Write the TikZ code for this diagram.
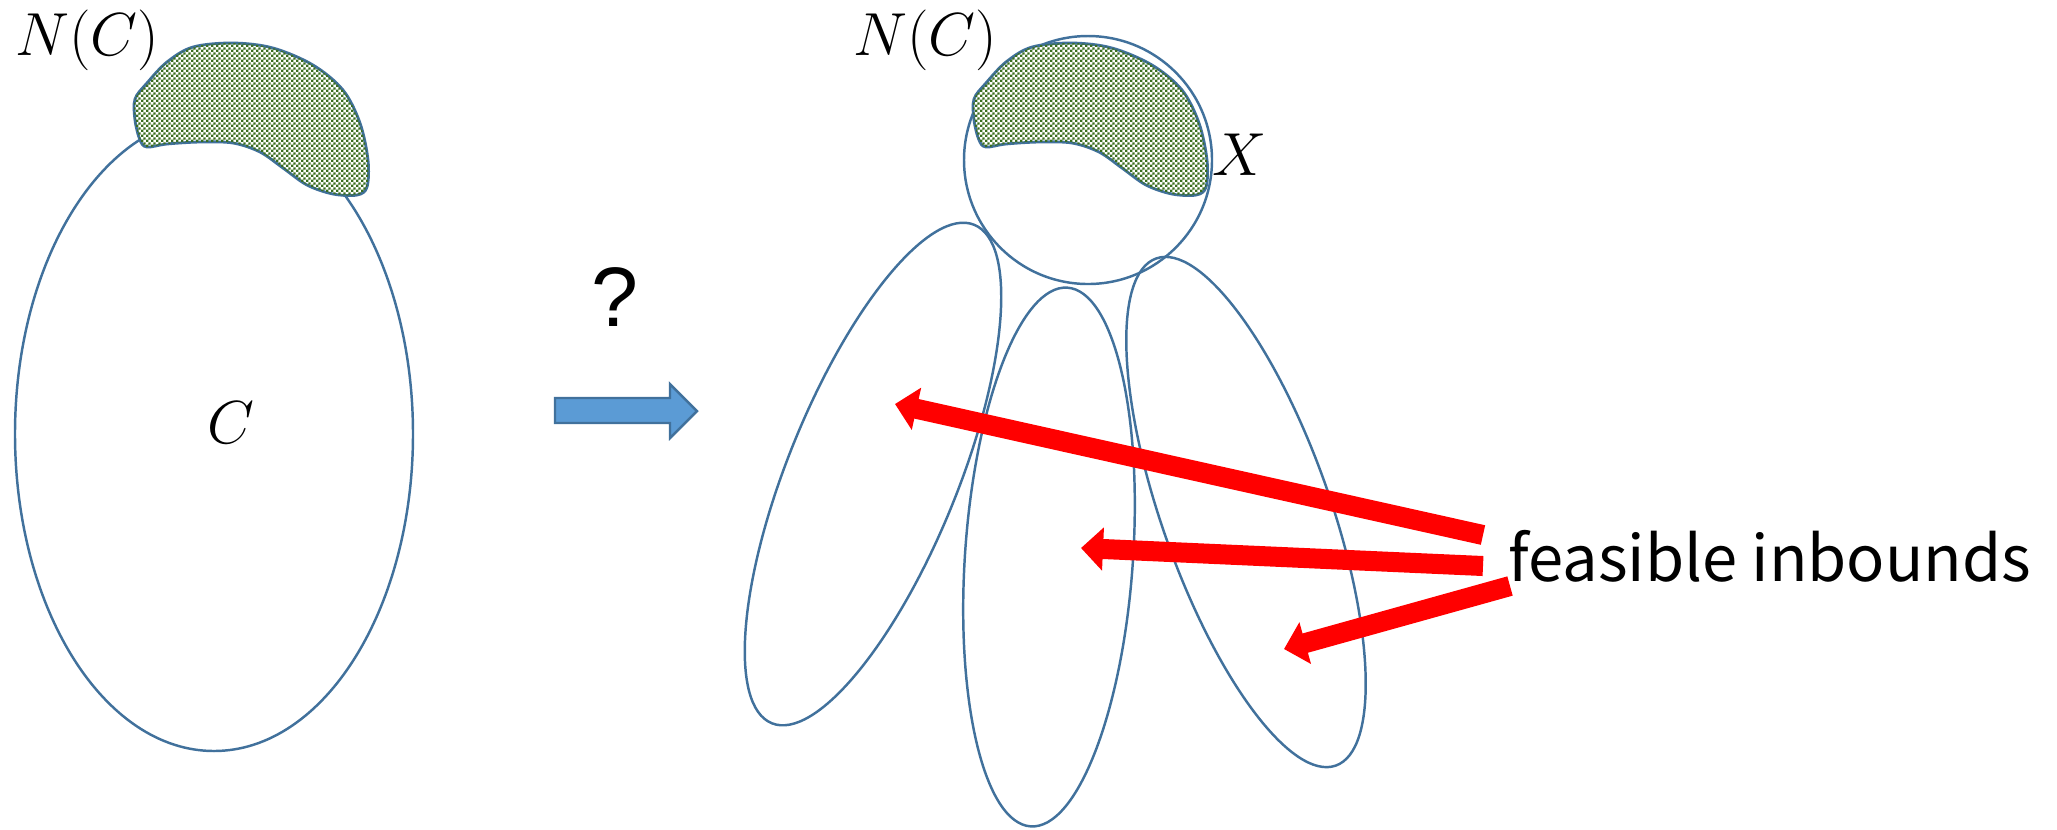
\documentclass[tikz,border=0pt]{standalone}
\usepackage{fontspec}
\newfontfamily\notefont{Noto Sans CJK JP}
\newfontfamily\qmarkfont{Liberation Sans}
\usetikzlibrary{arrows.meta,patterns}
\definecolor{edgeblue}{RGB}{65,113,156}
\definecolor{arrowblue}{RGB}{91,155,213}
\definecolor{checkgreen}{RGB}{58,110,30}
\pgfdeclarepatternformonly{finecheck}{\pgfpointorigin}{\pgfpoint{1.5pt}{1.5pt}}{\pgfpoint{1.5pt}{1.5pt}}{%
  \pgfpathrectangle{\pgfpointorigin}{\pgfpoint{0.75pt}{0.75pt}}%
  \pgfpathrectangle{\pgfpoint{0.75pt}{0.75pt}}{\pgfpoint{0.75pt}{0.75pt}}%
  \pgfusepath{fill}}

\begin{document}
\begin{tikzpicture}[x=0.01cm, y=-0.01cm,
  edge/.style={edgeblue, line width=0.7pt},
  nbhd/.style={edgeblue, line width=0.8pt, fill=white, postaction={pattern=finecheck, pattern color=checkgreen}},
  mathlbl/.style={font=\fontsize{17.5}{20}\selectfont, inner sep=0pt},
  inbound/.style={red, line width=0.2cm, -{Triangle[length=0.22cm, width=0.42cm]}}]
\useasboundingbox (0,0) rectangle (2057,829);
% left: C with its neighbourhood
\coordinate (cc) at (214,434);
\draw[edge] (cc) circle[x radius=199, y radius=317];
\draw[nbhd] plot[smooth cycle, tension=0.55] coordinates {(135,99) (147,83) (167,62) (193,47) (233,43) (273,48) (313,65) (343,90) (360,123) (368,160) (367,187) (357,195) (333,194) (307,185) (283,168) (260,152) (233,143) (200,142) (167,144) (147,147) (140,140) (135,120)};
\node[mathlbl] (nc1) at (87,40){$N(C)$};
\node[mathlbl] (c1) at (231,423){$C$};
% transition
\node[font=\qmarkfont\fontsize{24}{28}\selectfont, inner sep=0pt] (q) at (615,297){?};
\draw[edgeblue, fill=arrowblue, line width=0.7pt] (555,398) -- (670,398) -- (670,384) -- (697,411) -- (670,438) -- (670,423) -- (555,423) -- cycle;
% right: X and the covering pieces
\coordinate (xc) at (1088,160);
\draw[edge] (xc) circle[radius=124];
\coordinate (ea) at (873,474);
\coordinate (eb) at (1049,557);
\coordinate (ec) at (1246,512);
\draw[edge] (ea) circle[x radius=269, y radius=85, rotate=67.9];
\draw[edge] (eb) circle[x radius=270, y radius=84, rotate=86.1];
\draw[edge] (ec) circle[x radius=269, y radius=84, rotate=109.5];
\begin{scope}[shift={(839,0)}]
\draw[nbhd] plot[smooth cycle, tension=0.55] coordinates {(135,99) (147,83) (167,62) (193,47) (233,43) (273,48) (313,65) (343,90) (360,123) (368,160) (367,187) (357,195) (333,194) (307,185) (283,168) (260,152) (233,143) (200,142) (167,144) (147,147) (140,140) (135,120)};
\end{scope}
\node[mathlbl] (nc2) at (925,40){$N(C)$};
\node[mathlbl] (x) at (1240,155){$X$};
% feasible inbounds
\node[font=\notefont\fontsize{18}{22}\selectfont, anchor=base west, inner sep=0pt] (fi) at (1508,581){feasible inbounds};
\coordinate (t1) at (1483,535); \coordinate (h1) at (895,404);
\coordinate (t2) at (1483,566); \coordinate (h2) at (1081,548);
\coordinate (t3) at (1510,586); \coordinate (h3) at (1284,649);
\draw[inbound] (t1) -- (h1);
\draw[inbound] (t2) -- (h2);
\draw[inbound] (t3) -- (h3);
\end{tikzpicture}
\end{document}
